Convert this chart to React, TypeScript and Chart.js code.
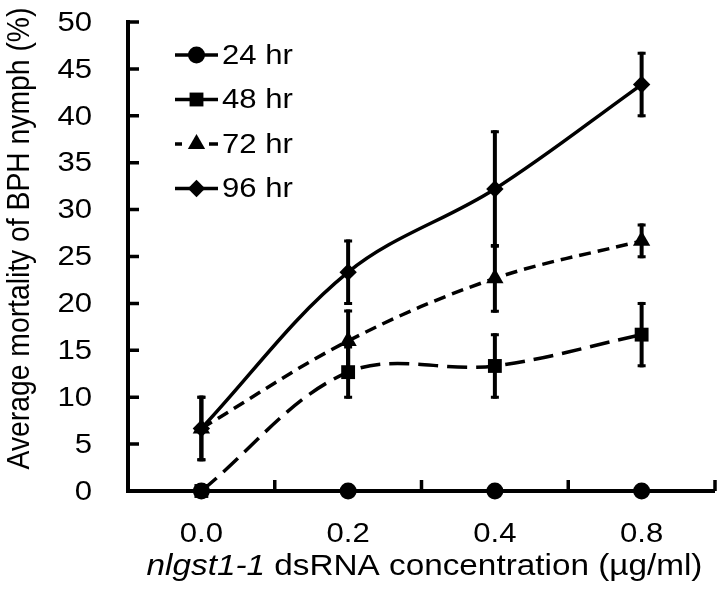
import React, { useEffect, useRef } from 'react';
import { Chart, registerables } from 'chart.js';
import { drawPoint } from 'chart.js/helpers';

Chart.register(...registerables);

const categories = ['0.0', '0.2', '0.4', '0.8'];
const seriesLabels = ['24 hr', '48 hr', '72 hr', '96 hr'];
const mort24 = [0, 0, 0, 0];
const mort48 = [0, 12.67, 13.33, 16.67];
const mort72 = [6.67, 16.0, 22.67, 26.67];
const mort96 = [6.67, 23.33, 32.2, 43.33];
const err24 = [0, 0, 0, 0];
const err48 = [0, 2.67, 3.33, 3.33];
const err72 = [3.33, 3.2, 3.5, 1.7];
const err96 = [3.33, 3.33, 6.1, 3.33];
const yMin = 0;
const yMax = 50;
const yStep = 5;
const xTitleItalic = 'nlgst1-1';
const xTitleRest = ' dsRNA concentration (\u00b5g/ml)';
const yTitle = 'Average mortality of BPH nymph (%)';

const FONT = "'Liberation Sans', Arial, sans-serif";
const SX = 1.11; // horizontal text stretch seen in the reference

const pointStyles = ['circle', 'rect', 'triangle', 'rectRot'];
const pointRadii = [8.5, 9.8, 10, 8.7];
const dashes: number[][] = [[], [20, 9], [12, 7], []];

function stretchedText(ctx: any, text: string, x: number, y: number, font: string, align: string, baseline: string, sx: number) {
  ctx.save();
  ctx.font = font;
  ctx.textAlign = align;
  ctx.textBaseline = baseline;
  ctx.translate(x, y);
  ctx.scale(sx, 1);
  ctx.fillText(text, 0, 0);
  ctx.restore();
}

const errorBarPlugin = {
  id: 'errorBars',
  beforeDatasetsDraw(chart: any) {
    const { ctx, scales } = chart;
    const x = scales.x, y = scales.y;
    chart.data.datasets.forEach((ds: any) => {
      const errs = ds.errors as number[];
      if (!errs) return;
      ds.data.forEach((v: number, i: number) => {
        const e = errs[i];
        if (!e) return;
        const px = x.getPixelForValue(i);
        const top = y.getPixelForValue(v + e);
        const bot = y.getPixelForValue(v - e);
        ctx.save();
        ctx.strokeStyle = '#000';
        ctx.lineWidth = 4;
        ctx.beginPath();
        ctx.moveTo(px, top - 1.5);
        ctx.lineTo(px, bot + 1.5);
        ctx.stroke();
        ctx.lineWidth = 3;
        ctx.beginPath();
        ctx.moveTo(px - 4, top);
        ctx.lineTo(px + 4, top);
        ctx.moveTo(px - 4, bot);
        ctx.lineTo(px + 4, bot);
        ctx.stroke();
        ctx.restore();
      });
    });
  },
};

const axisPlugin = {
  id: 'axisTicks',
  afterDraw(chart: any) {
    const { ctx, scales, chartArea } = chart;
    const x = scales.x, y = scales.y;
    ctx.save();
    ctx.strokeStyle = '#000';
    ctx.lineWidth = 4;
    ctx.beginPath();
    ctx.moveTo(chartArea.left, y.getPixelForValue(yMax) - 2);
    ctx.lineTo(chartArea.left, chartArea.bottom + 2);
    ctx.moveTo(chartArea.left - 2, chartArea.bottom);
    ctx.lineTo(chartArea.right, chartArea.bottom);
    ctx.stroke();
    ctx.lineWidth = 3.5;
    ctx.beginPath();
    for (let v = yMin + yStep; v <= yMax; v += yStep) {
      const py = y.getPixelForValue(v);
      ctx.moveTo(chartArea.left, py);
      ctx.lineTo(chartArea.left + 11, py);
    }
    const n = categories.length;
    for (let k = 1; k <= n; k++) {
      const px = x.left + (k * x.width) / n;
      ctx.moveTo(px, chartArea.bottom);
      ctx.lineTo(px, chartArea.bottom - 11);
    }
    ctx.stroke();
    ctx.restore();

    ctx.save();
    ctx.fillStyle = '#000';
    const tickFont = `28px ${FONT}`;
    // y tick labels
    y.ticks.forEach((t: any) => {
      stretchedText(ctx, String(t.value), chartArea.left - 36, y.getPixelForValue(t.value) + 1, tickFont, 'right', 'middle', SX);
    });
    // x tick labels
    chart.data.labels.forEach((lab: string, i: number) => {
      stretchedText(ctx, lab, x.getPixelForValue(i), chartArea.bottom + 43, tickFont, 'center', 'middle', SX);
    });

    // x title (mixed italic / regular)
    const fItal = `italic 30px ${FONT}`;
    const fReg = `30px ${FONT}`;
    ctx.font = fItal;
    const w1 = ctx.measureText(xTitleItalic).width * SX;
    ctx.font = fReg;
    const w2 = ctx.measureText(xTitleRest).width * SX;
    const cx = (chartArea.left + chartArea.right) / 2 + 3;
    const startX = cx - (w1 + w2) / 2;
    const baseY = chartArea.bottom + 84;
    stretchedText(ctx, xTitleItalic, startX, baseY, fItal, 'left', 'alphabetic', SX);
    stretchedText(ctx, xTitleRest, startX + w1, baseY, fReg, 'left', 'alphabetic', SX);

    // y title (rotated)
    ctx.save();
    ctx.font = `28.3px ${FONT}`;
    ctx.textAlign = 'center';
    ctx.textBaseline = 'middle';
    ctx.translate(20, (chartArea.top + chartArea.bottom) / 2 - 18);
    ctx.scale(SX, 1);
    ctx.rotate(-Math.PI / 2);
    ctx.fillText(yTitle, 0, 0);
    ctx.restore();

    // legend
    const lx0 = chartArea.left + 47;
    const lx1 = chartArea.left + 90;
    const mx = (lx0 + lx1) / 2;
    const textX = chartArea.left + 94;
    chart.data.datasets.forEach((ds: any, i: number) => {
      const ly = chartArea.top + 33 + i * 44.5;
      ctx.strokeStyle = '#000';
      ctx.lineWidth = 3.5;
      const dash = ds.borderDash || [];
      if (dash.length && dash[0] < 15) {
        ctx.beginPath();
        ctx.moveTo(lx0, ly);
        ctx.lineTo(lx0 + 7, ly);
        ctx.moveTo(lx1 - 9, ly);
        ctx.lineTo(lx1, ly);
        ctx.stroke();
      } else {
        ctx.beginPath();
        ctx.moveTo(lx0, ly);
        ctx.lineTo(lx1, ly);
        ctx.stroke();
      }
      ctx.fillStyle = '#000';
      drawPoint(ctx, { pointStyle: ds.pointStyle, radius: ds.pointRadius, rotation: 0, borderWidth: 0 } as any, mx, ly);
      ctx.fillStyle = '#000';
      stretchedText(ctx, ds.label, textX, ly + 1, `28px ${FONT}`, 'left', 'middle', SX);
    });
    ctx.restore();
  },
};

export default function App() {
  const ref = useRef<HTMLCanvasElement | null>(null);
  useEffect(() => {
    document.body.style.margin = '0';
    const canvas = ref.current;
    if (!canvas) return;
    const values = [mort24, mort48, mort72, mort96];
    const errors = [err24, err48, err72, err96];
    const chart = new Chart(canvas, {
      type: 'line',
      data: {
        labels: categories,
        datasets: seriesLabels.map((label, i) => ({
          label,
          data: values[i],
          errors: errors[i],
          borderColor: '#000',
          backgroundColor: '#000',
          borderWidth: 3.5,
          borderDash: dashes[i],
          pointStyle: pointStyles[i],
          pointRadius: pointRadii[i],
          pointBackgroundColor: '#000',
          pointBorderColor: '#000',
          pointBorderWidth: 0,
          tension: 0.35,
          clip: false,
          fill: false,
        })) as any,
      },
      options: {
        animation: false,
        responsive: false,
        maintainAspectRatio: false,
        layout: { padding: { top: 22, right: 10, left: 0, bottom: 0 } },
        plugins: {
          legend: { display: false },
          tooltip: { enabled: false },
        },
        scales: {
          x: {
            type: 'category',
            offset: true,
            grid: { display: false, drawTicks: false },
            border: { display: false },
            ticks: { display: false },
            afterFit: (s: any) => {
              s.height = 107;
              s.paddingLeft = 0;
              s.paddingRight = 0;
            },
          },
          y: {
            min: yMin,
            max: yMax,
            grid: { display: false, drawTicks: false },
            border: { display: false },
            ticks: { display: false, stepSize: yStep },
            afterFit: (s: any) => {
              s.width = 128;
              s.paddingTop = 0;
              s.paddingBottom = 0;
            },
          },
        },
      },
      plugins: [errorBarPlugin, axisPlugin],
    });
    return () => chart.destroy();
  }, []);
  return <canvas ref={ref} width={725} height={598} style={{ display: 'block' }} />;
}
